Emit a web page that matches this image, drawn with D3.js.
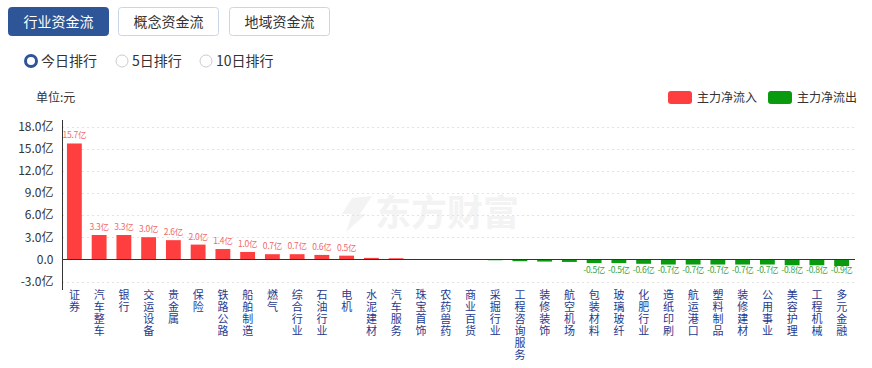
<!DOCTYPE html>
<html><head><meta charset="utf-8">
<script src="https://cdn.jsdelivr.net/npm/d3@7"></script>
<style>
body{margin:0;background:#fff;font-family:"Noto Sans CJK SC","Microsoft YaHei",sans-serif;}
svg{display:block;}
</style></head>
<body><svg id="c" width="872" height="368"></svg>
<script>
const categories = ["证券","汽车整车","银行","交运设备","贵金属","保险","铁路公路","船舶制造","燃气","综合行业","石油行业","电机","水泥建材","汽车服务","珠宝首饰","农药兽药","商业百货","采掘行业","工程咨询服务","装修装饰","航空机场","包装材料","玻璃玻纤","化肥行业","造纸印刷","航运港口","塑料制品","装修建材","公用事业","美容护理","工程机械","多元金融"];
const values = [15.7,3.3,3.3,3.0,2.6,2.0,1.4,1.0,0.7,0.7,0.6,0.5,0.2,0.15,0.04,-0.04,-0.08,-0.12,-0.25,-0.3,-0.35,-0.5,-0.5,-0.6,-0.7,-0.7,-0.7,-0.7,-0.7,-0.8,-0.8,-0.9];
const yTicks = [-3,0,3,6,9,12,15,18];
const tabs = ["行业资金流","概念资金流","地域资金流"];
const radios = ["今日排行","5日排行","10日排行"];
const legendItems = ["主力净流入","主力净流出"];

const svg = d3.select("#c");
const FONT = '"Noto Sans CJK SC","Microsoft YaHei",sans-serif';
const RED = "#ff3f3f", GREEN = "#0a9a10";

// tabs
const tabX = [8,118,229];
tabs.forEach((t,i)=>{
  const g = svg.append("g");
  g.append("rect").attr("x",tabX[i]+0.5).attr("y",7.5).attr("width",100).attr("height",28).attr("rx",3)
    .attr("fill", i===0?"#2e5597":"#fff").attr("stroke", i===0?"#2e5597":"#c9d6e6");
  g.append("text").attr("x",tabX[i]+50.5).attr("y",26.5).attr("text-anchor","middle")
    .attr("font-size",14).attr("font-family",FONT).attr("fill", i===0?"#fff":"#333").text(t);
});
// radios
const rx = [31,122,206];
radios.forEach((t,i)=>{
  if(i===0){
    svg.append("circle").attr("cx",rx[i]).attr("cy",61).attr("r",5.5).attr("fill","#fff").attr("stroke","#2e5597").attr("stroke-width",3);
  } else {
    svg.append("circle").attr("cx",rx[i]).attr("cy",61).attr("r",6).attr("fill","#fff").attr("stroke","#ccc");
  }
  svg.append("text").attr("x",rx[i]+10).attr("y",66).attr("font-size",14).attr("font-family",FONT).attr("fill","#333").text(t);
});

// unit
svg.append("text").attr("x",36).attr("y",102).attr("font-size",12).attr("font-family",FONT).attr("fill","#333").text("单位:元");

// legend
legendItems.forEach((t,i)=>{
  const x0 = 668 + i*100;
  svg.append("rect").attr("x",x0).attr("y",91).attr("width",24).attr("height",13).attr("rx",3).attr("fill", i===0?RED:GREEN);
  svg.append("text").attr("x",x0+29).attr("y",102).attr("font-size",12).attr("font-family",FONT).attr("fill","#333").text(t);
});

// scales
const x = d3.scaleBand().domain(categories).range([62,854]).paddingInner(0.4).paddingOuter(0.2);
const y = d3.scaleLinear().domain([-3,18]).range([281.5,126.5]);

// watermark
const wm = svg.append("g");
wm.append("path").attr("d","M352,198 L372,196 L360,214 L366,214 L346,232 L352,214 L342,214 Z").attr("fill","#f3f3f3");
wm.append("text").attr("x",375).attr("y",226).attr("font-size",36).attr("font-weight","bold").attr("font-family",FONT).attr("fill","#f3f3f3").text("东方财富");

// grid
svg.append("g").selectAll("line").data(yTicks.filter(d=>d!==0)).join("line")
  .attr("x1",62).attr("x2",855).attr("y1",d=>Math.round(y(d))+0.5).attr("y2",d=>Math.round(y(d))+0.5)
  .attr("stroke","#e3e3e3").attr("stroke-dasharray","2,3");

// y axis
const yAxis = d3.axisLeft(y).tickValues(yTicks).tickSize(0).tickPadding(9)
  .tickFormat(d=> d===0 ? "0.0" : d.toFixed(1)+"亿");
const ga = svg.append("g").attr("transform","translate(62.5,0)").call(yAxis);
ga.select(".domain").attr("stroke","#333").attr("d","M0,120V290");
ga.selectAll("text").attr("font-size",12).attr("font-family",FONT).attr("fill","#333");

// bars
svg.append("g").selectAll("rect").data(values).join("rect")
  .attr("x",(d,i)=>x(categories[i])).attr("width",x.bandwidth())
  .attr("y",d=>d>=0?y(d):y(0)).attr("height",d=>Math.abs(y(d)-y(0)))
  .attr("fill",d=>d>=0?RED:GREEN);

// zero line
svg.append("line").attr("x1",62).attr("x2",855).attr("y1",Math.round(y(0))+0.5).attr("y2",Math.round(y(0))+0.5).attr("stroke","#333");

// value labels
svg.append("g").selectAll("text").data(values.map((v,i)=>({v,i})).filter(d=>Math.abs(d.v)>=0.5)).join("text")
  .attr("x",d=>x(categories[d.i])+x.bandwidth()/2)
  .attr("y",d=>d.v>=0? y(d.v)-5 : y(0)+14)
  .attr("text-anchor","middle").attr("font-size",8.5).attr("letter-spacing",-0.3).attr("font-family",FONT)
  .attr("fill",d=>d.v>=0?"#f06a6a":"#3aa13a")
  .text(d=>d.v.toFixed(1)+"亿");

// x labels vertical
const xl = svg.append("g").selectAll("text").data(categories).join("text")
  .attr("x",d=>x(d)+x.bandwidth()/2)
  .attr("font-size",11).attr("font-family",FONT).attr("fill","#1f3a8f").attr("text-anchor","middle");
xl.each(function(d){
  const t = d3.select(this);
  [...d].forEach((ch,k)=>{
    t.append("tspan").attr("x",x(d)+x.bandwidth()/2).attr("y",299+k*12).text(ch);
  });
});
</script></body></html>
